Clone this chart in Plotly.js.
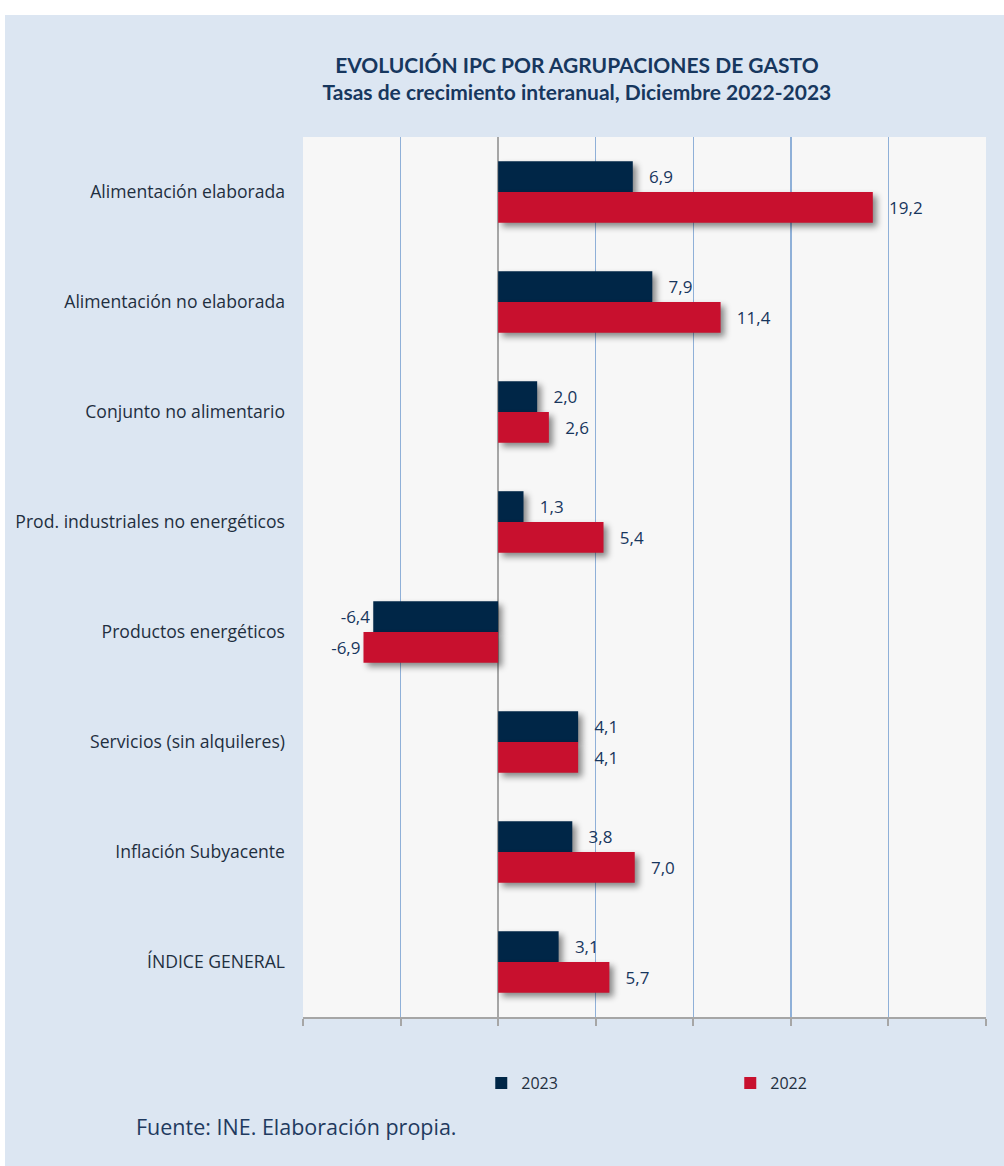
<!DOCTYPE html>
<html>
<head>
<meta charset="utf-8">
<script src="https://cdn.plot.ly/plotly-3.0.1.min.js"></script>
<style>
  html, body { margin: 0; padding: 0; background: #ffffff; }
  #chart { position: absolute; left: 5px; top: 15px; width: 999px; height: 1151px; }
  .trace.bars path { filter: drop-shadow(4px 4px 3px rgba(0,0,0,0.45)); }
</style>
</head>
<body>
<div id="chart"></div>
<script>
const categories = [
  "Alimentación elaborada",
  "Alimentación no elaborada",
  "Conjunto no alimentario",
  "Prod. industriales no energéticos",
  "Productos energéticos",
  "Servicios (sin alquileres)",
  "Inflación Subyacente",
  "ÍNDICE GENERAL"
];
const values2023 = [6.9, 7.9, 2.0, 1.3, -6.4, 4.1, 3.8, 3.1];
const values2022 = [19.2, 11.4, 2.6, 5.4, -6.9, 4.1, 7.0, 5.7];
const seriesNames = ["2023", "2022"];
const colors = ["#002647", "#c8102e"];

function labelTemplates(vals) {
  return vals.map(v => v >= 0 ? "   %{x:.1f}" : "%{x:.1f}");
}

const labelFont = { family: "Open Sans", size: 17, color: "#17365d" };

const traces = [
  {
    type: "bar", orientation: "h", name: seriesNames[0],
    y: categories, x: values2023,
    marker: { color: colors[0] },
    texttemplate: labelTemplates(values2023),
    textposition: "outside", cliponaxis: false,
    textfont: labelFont,
    hoverinfo: "skip"
  },
  {
    type: "bar", orientation: "h", name: seriesNames[1],
    y: categories, x: values2022,
    marker: { color: colors[1] },
    texttemplate: labelTemplates(values2022),
    textposition: "outside", cliponaxis: false,
    textfont: labelFont,
    hoverinfo: "skip"
  }
];

const layout = {
  width: 999, height: 1151,
  margin: { l: 298, r: 18, t: 122, b: 149 },
  paper_bgcolor: "#dce6f2",
  plot_bgcolor: "#f7f7f7",
  separators: ",.",
  barmode: "group",
  bargap: 0.44,
  bargroupgap: 0,
  showlegend: true,
  title: {
    text: "<b>EVOLUCIÓN IPC POR AGRUPACIONES DE GASTO</b><br><b>Tasas de crecimiento interanual, Diciembre 2022-2023</b>",
    font: { family: "Lato", size: 21, color: "#17375e" },
    x: 0.401, xanchor: "center", xref: "paper",
    y: 1 - 58 / 1151, yanchor: "middle", yref: "container"
  },
  xaxis: {
    range: [-10, 25], dtick: 5, tick0: 0,
    showgrid: true, gridcolor: "#8fb0d8", gridwidth: 1.5,
    zeroline: true, zerolinecolor: "#a6a6a6", zerolinewidth: 1.5,
    showline: true, linecolor: "#a6a6a6", linewidth: 2,
    ticks: "outside", ticklen: 7, tickcolor: "#a6a6a6", tickwidth: 2,
    showticklabels: false, fixedrange: true
  },
  yaxis: {
    type: "category", autorange: "reversed",
    showgrid: false, zeroline: false, showline: false, ticks: "",
    ticklabelstandoff: 17,
    tickfont: { family: "Open Sans", size: 17.6, color: "#1f2f3f" },
    fixedrange: true
  },
  yaxis2: {
    overlaying: "y", anchor: "free", position: 10 / 35, side: "left",
    range: [7.5, -0.5], tick0: -0.5, dtick: 0.5,
    showgrid: false, zeroline: false, showline: false,
    ticks: "outside", ticklen: 6, tickcolor: "#a6a6a6", tickwidth: 1.5,
    showticklabels: false, fixedrange: true
  },
  legend: {
    orientation: "h", x: 0.261, xanchor: "left", y: -0.075, yanchor: "middle",
    entrywidth: 204, itemwidth: 30,
    font: { family: "Open Sans", size: 16, color: "#1f2f3f" },
    bgcolor: "rgba(0,0,0,0)"
  },
  annotations: [
    {
      text: "Fuente: INE. Elaboración propia.",
      xref: "paper", yref: "paper", x: -0.248, y: -0.124,
      xanchor: "left", yanchor: "middle", showarrow: false,
      font: { family: "Open Sans", size: 21.5, color: "#1f3a5f" }
    }
  ]
};

Plotly.newPlot("chart", traces, layout, { displayModeBar: false, staticPlot: true });
</script>
</body>
</html>
